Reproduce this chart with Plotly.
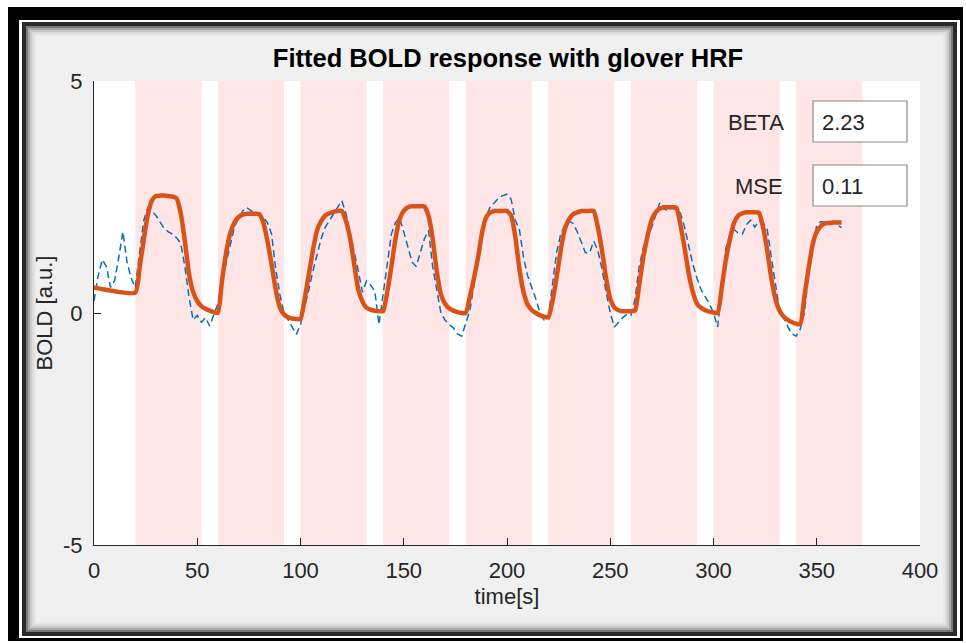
import plotly.graph_objects as go

# ---------------- data ----------------
data_t = list(range(0, 364, 2))
data_v = [
    0.26, 0.8, 1.15, 1.0, 0.55, 0.7, 1.2, 1.75, 1.1, 0.75,
    0.55, 1.3, 1.98, 2.27, 2.2, 2.1, 1.95, 1.82, 1.75, 1.7,
    1.62, 1.5, 1.0, 0.35, -0.15, -0.05, -0.2, -0.1, -0.28, -0.05,
    0.2, 0.7, 1.1, 1.45, 1.85, 2.05, 2.2, 2.27, 2.2, 2.15,
    2.16, 2.05, 1.95, 1.7, 0.95, 0.4, 0.0, -0.15, -0.3, -0.46,
    -0.25, 0.1, 0.5, 0.9, 1.25, 1.6, 1.85, 2.0, 2.15, 2.3,
    2.42, 2.15, 1.75, 1.35, 0.9, 0.45, 0.69, 0.6, 0.47, -0.25,
    0.4, 1.0, 1.7, 1.95, 2.05, 1.75, 1.45, 1.1, 1.0, 1.3,
    1.6, 1.78, 1.0, 0.5, 0.0, -0.15, -0.25, -0.32, -0.45, -0.5,
    -0.2, 0.05, 0.6, 1.15, 1.9, 2.1, 2.3, 2.38, 2.48, 2.53,
    2.56, 2.45, 2.0, 1.8, 1.2, 0.8, 0.55, 0.3, 0.0, -0.15,
    -0.1, 0.6, 1.3, 1.7, 1.9, 1.98, 1.93, 1.75, 1.52, 1.3,
    1.3, 1.55, 1.35, 0.95, 0.45, 0.0, -0.3, -0.2, -0.1, -0.03,
    -0.05, 0.3, 1.0, 1.41, 1.65, 1.84, 2.1, 2.38, 2.25, 2.2,
    2.27, 2.22, 2.15, 1.85, 1.45, 1.05, 0.75, 0.5, 0.35, 0.2,
    0.0, -0.3, 0.5, 1.4, 1.7, 1.8, 1.72, 1.7, 1.91, 2.0,
    1.85, 1.98, 1.95, 1.8, 1.2, 0.62, 0.05, -0.1, -0.3, -0.45,
    -0.5, -0.35, 0.0, 0.85, 1.4, 1.9, 1.97, 1.95, 1.91, 1.95,
    1.9, 1.84,
]

fit_t = [0] + list(range(20, 364, 2))
fit_v = [
    0.55,
    0.44, 0.95, 1.55, 2.1, 2.42, 2.52, 2.53, 2.53, 2.52, 2.51,
    2.47, 2.15, 1.55, 0.85, 0.45, 0.26, 0.15, 0.09, 0.05, 0.02,
    0.0, 0.7, 1.3, 1.72, 1.95, 2.07, 2.12, 2.14, 2.14, 2.14,
    2.13, 1.95, 1.55, 1.05, 0.5, 0.12, -0.03, -0.09, -0.12, -0.13,
    -0.13, 0.3, 0.82, 1.35, 1.78, 1.98, 2.1, 2.15, 2.18, 2.2,
    2.2, 1.98, 1.62, 1.05, 0.5, 0.25, 0.11, 0.07, 0.05, 0.04,
    0.04, 0.45, 1.0, 1.6, 2.02, 2.2, 2.28, 2.3, 2.3, 2.3,
    2.3, 2.1, 1.6, 0.9, 0.4, 0.2, 0.1, 0.05, 0.02, 0.0,
    0.0, 0.35, 0.75, 1.2, 1.75, 2.07, 2.17, 2.2, 2.2, 2.2,
    2.2, 2.1, 1.65, 0.95, 0.45, 0.18, 0.06, 0.0, -0.05, -0.08,
    -0.1, 0.25, 0.76, 1.35, 1.8, 2.02, 2.13, 2.17, 2.2, 2.2,
    2.2, 2.2, 1.85, 1.35, 0.75, 0.3, 0.12, 0.06, 0.04, 0.04,
    0.04, 0.05, 0.6, 1.2, 1.65, 2.0, 2.17, 2.25, 2.28, 2.28,
    2.28, 2.27, 1.9, 1.4, 0.85, 0.45, 0.2, 0.11, 0.06, 0.03,
    0.01, 0.0, 0.55, 1.15, 1.6, 1.95, 2.1, 2.15, 2.17, 2.17,
    2.17, 2.16, 1.85, 1.35, 0.75, 0.3, 0.05, -0.08, -0.15, -0.2,
    -0.23, -0.24, 0.35, 0.95, 1.47, 1.75, 1.87, 1.93, 1.94, 1.95,
    1.95, 1.95,
]

block_on = [20, 60, 100, 140, 180, 220, 260, 300, 340]
block_off = [52, 92, 132, 172, 212, 252, 292, 332, 372]

x_ticks = [0, 50, 100, 150, 200, 250, 300, 350, 400]
y_ticks = [-5, 0, 5]

title_text = "Fitted BOLD response with glover HRF"
x_label = "time[s]"
y_label = "BOLD [a.u.]"
beta_value = "2.23"
mse_value = "0.11"

# ---------------- layout geometry ----------------
W, H = 966, 643
L, R, T, B = 94, 920, 81, 545
PW, PH = R - L, B - T
FONT = "Liberation Sans, Arial, Helvetica, sans-serif"
TXT = "#262626"
FS = 22


def px(x):
    return (x - L) / PW


def py(y):
    return (B - y) / PH


def prect(x0, y0, x1, y1, color, layer="below"):
    return dict(type="rect", xref="paper", yref="paper",
                x0=px(x0), x1=px(x1), y0=py(y1), y1=py(y0),
                fillcolor=color, line=dict(width=0), layer=layer)


fig = go.Figure()

fig.add_trace(go.Scatter(
    x=data_t, y=data_v, mode="lines",
    line=dict(color="#0072BD", width=1.5, dash="7px,4px"),
    showlegend=False, hoverinfo="skip"))
fig.add_trace(go.Scatter(
    x=fit_t, y=fit_v, mode="lines",
    line=dict(color="#D95319", width=4.5, shape="spline", smoothing=0.5),
    showlegend=False, hoverinfo="skip"))

shapes = []
# stimulation blocks
for a, b in zip(block_on, block_off):
    shapes.append(dict(type="rect", xref="x", yref="y", x0=a, x1=b, y0=-5, y1=5,
                       fillcolor="#FFE5E6", line=dict(width=0), layer="below"))

# window frame
shapes += [
    prect(0, 0, W, 7, "white"), prect(0, 0, 8, H, "white"),
    prect(963, 0, W, H, "white"), prect(0, 641, W, H, "white"),
    prect(8, 7, 19, 641, "black"), prect(8, 7, 963, 20, "black"),
    prect(960, 7, 963, 641, "black"), prect(8, 638, 963, 641, "black"),
    prect(19, 20, 22, 638, "white"), prect(19, 20, 960, 22, "white"),
    prect(957, 20, 960, 638, "white"), prect(19, 636, 960, 638, "white"),
]
shadow = ["#2a2a2a", "#7a7a7a", "#a8a8a8", "#c8c8c8", "#dcdcdc", "#e8e8e8"]
widths = [4, 2, 2, 2, 2, 2]
xl, yt, xr, yb = 22, 22, 957, 636
for c, w in zip(shadow, widths):
    shapes += [prect(xl, yt, xl + w, yb, c), prect(xl, yt, xr, yt + w, c),
               prect(xr - w, yt, xr, yb, c), prect(xl, yb - w, xr, yb, c)]
    xl += w; yt += w; xr -= w; yb -= w

# value boxes
shapes.append(dict(type="rect", xref="paper", yref="paper",
                   x0=px(813), x1=px(907), y0=py(142), y1=py(101),
                   fillcolor="white", line=dict(color="#8a8a8a", width=1.2), layer="above"))
shapes.append(dict(type="rect", xref="paper", yref="paper",
                   x0=px(813), x1=px(907), y0=py(206), y1=py(165),
                   fillcolor="white", line=dict(color="#8a8a8a", width=1.2), layer="above"))

annotations = [
    dict(text="BETA", xref="paper", yref="paper", x=px(786), y=py(122),
         xanchor="right", yanchor="middle", showarrow=False,
         font=dict(family=FONT, size=FS, color=TXT)),
    dict(text=beta_value, xref="paper", yref="paper", x=px(820), y=py(122),
         xanchor="left", yanchor="middle", showarrow=False,
         font=dict(family=FONT, size=FS, color=TXT)),
    dict(text="MSE", xref="paper", yref="paper", x=px(785), y=py(186),
         xanchor="right", yanchor="middle", showarrow=False,
         font=dict(family=FONT, size=FS, color=TXT)),
    dict(text=mse_value, xref="paper", yref="paper", x=px(820), y=py(186),
         xanchor="left", yanchor="middle", showarrow=False,
         font=dict(family=FONT, size=FS, color=TXT)),
]

fig.update_layout(
    width=W, height=H,
    margin=dict(l=L, r=W - R, t=T, b=H - B, autoexpand=False),
    paper_bgcolor="#F0F0F0", plot_bgcolor="white",
    font=dict(family=FONT, size=FS, color=TXT),
    title=dict(text="<b>" + title_text + "</b>", xref="container", x=508 / W,
               xanchor="center", yref="container", y=1 - 58 / H, yanchor="middle",
               font=dict(family=FONT, size=25.5, color="black")),
    shapes=shapes, annotations=annotations,
    xaxis=dict(range=[0, 400], tickvals=x_ticks, ticktext=[str(v) for v in x_ticks],
               showgrid=False, zeroline=False, showline=True, linecolor=TXT, linewidth=1,
               ticks="inside", ticklen=7, tickcolor=TXT, tickwidth=1,
               ticklabelstandoff=6,
               tickfont=dict(size=FS, color=TXT),
               title=dict(text=x_label, standoff=6, font=dict(size=FS, color=TXT))),
    yaxis=dict(range=[-5, 5], tickvals=y_ticks, ticktext=[str(v) for v in y_ticks],
               showgrid=False, zeroline=False, showline=True, linecolor=TXT, linewidth=1,
               ticks="inside", ticklen=7, tickcolor=TXT, tickwidth=1,
               ticklabelstandoff=6,
               tickfont=dict(size=FS, color=TXT),
               title=dict(text=y_label, standoff=4, font=dict(size=FS, color=TXT))),
)

fig.write_html("out.html")
